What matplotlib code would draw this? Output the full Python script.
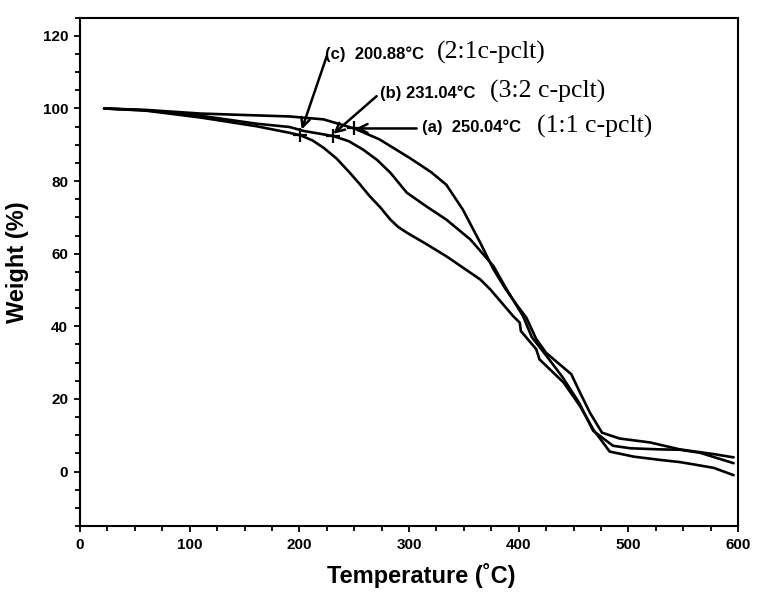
import matplotlib
matplotlib.use("Agg")
import matplotlib.pyplot as plt
import numpy as np
from matplotlib import font_manager
from matplotlib.ticker import MultipleLocator

# TGA curves (temperature in C, weight in %)
temp_a = [22, 60, 110, 150, 191, 222, 250, 273, 301, 320, 334, 349, 365, 377, 388, 398,
          407, 416, 425, 441, 448, 456, 465, 476, 492, 520, 547, 578, 596]
wt_a = [100, 99.6, 98.6, 98.2, 97.8, 97.0, 94.5, 91.5, 86.3, 82.5, 79.0, 72.2, 63.0, 55.7,
        50.3, 46.0, 42.4, 36.5, 32.7, 28.6, 26.8, 21.7, 16.2, 10.7, 9.1, 8.0, 6.1, 4.8, 3.9]

temp_b = [22, 60, 110, 161, 191, 204, 231, 245, 258, 271, 283, 298, 316, 334, 356, 377,
          389, 404, 412, 425, 440, 455, 468, 486, 502, 529, 547, 565, 596]
wt_b = [100, 99.5, 98.0, 95.8, 94.9, 93.8, 92.4, 91.0, 88.7, 85.8, 82.3, 76.8, 73.0, 69.4,
        63.9, 56.6, 50.2, 42.8, 37.0, 32.0, 26.0, 19.0, 11.2, 7.1, 6.4, 6.1, 6.0, 5.2, 2.3]

temp_c = [22, 60, 110, 161, 191, 201, 212, 222, 234, 246, 255, 264, 274, 283, 290, 298,
          315, 334, 365, 374, 395, 401, 402, 416, 419, 441, 456, 468, 483, 505, 529, 547,
          559, 578, 596]
wt_c = [100, 99.4, 97.5, 95.1, 93.3, 92.6, 91.2, 89.2, 86.2, 82.3, 79.2, 75.9, 72.7, 69.4,
        67.4, 65.8, 62.8, 59.3, 52.9, 50.2, 42.8, 41.0, 38.7, 33.7, 30.9, 24.5, 18.0, 11.6,
        5.5, 4.1, 3.2, 2.6, 2.0, 1.0, -1.0]

# onset temperatures and labels
onsets = [250.04, 231.04, 200.88]
tags = ["(a)  250.04°C", "(b) 231.04°C", "(c)  200.88°C"]
ratios = ["(1:1 c-pclt)", "(3:2 c-pclt)", "(2:1c-pclt)"]

installed = {f.name for f in font_manager.fontManager.ttflist}
narrow = [f for f in ["Liberation Sans Narrow", "Liberation Sans", "DejaVu Sans"] if f in installed]
sans = [f for f in ["Liberation Sans", "DejaVu Sans"] if f in installed]
serif = [f for f in ["Liberation Serif", "DejaVu Serif"] if f in installed]

fig = plt.figure(figsize=(7.63, 5.97), dpi=100)
ax = fig.add_axes([80/763, 1-526/597, 658/763, 508.3/597])

curves = [(temp_a, wt_a), (temp_b, wt_b), (temp_c, wt_c)]
for t, w in curves:
    ax.plot(t, w, color="black", lw=1.9, solid_capstyle="round", solid_joinstyle="round")

# onset markers
onset_w = [np.interp(o, t, w) for o, (t, w) in zip(onsets, curves)]
for o, w in zip(onsets, onset_w):
    ax.plot(o, w, marker="+", ms=10, mew=1.6, color="black")

arrow = dict(arrowstyle="->", color="black", lw=1.8, mutation_scale=16, shrinkA=0, shrinkB=0)

# (a) horizontal arrow
ax.annotate("", xy=(onsets[0] + 1.5, onset_w[0]), xytext=(307, onset_w[0]), arrowprops=arrow)
ax.text(311.6, 94.7, tags[0], family=sans, weight="bold", fontsize=12, va="center")
ax.text(416.7, 95.0, ratios[0], family=serif, fontsize=18.5, va="center")

# (b)
ax.annotate("", xy=(onsets[1], onset_w[1] + 0.6), xytext=(270.5, 103.4), arrowprops=arrow)
ax.text(273.5, 104.3, tags[1], family=sans, weight="bold", fontsize=12, va="center")
ax.text(373.8, 104.6, ratios[1], family=serif, fontsize=18.5, va="center")

# (c)
ax.annotate("", xy=(onsets[2] + 1.3, onset_w[2] + 1.6), xytext=(225, 114.4), arrowprops=arrow)
ax.text(223.4, 114.9, tags[2], family=sans, weight="bold", fontsize=12, va="center")
ax.text(325.3, 115.3, ratios[2], family=serif, fontsize=18.5, va="center")

ax.set_xlim(0, 600)
ax.set_ylim(-15, 125)
ax.xaxis.set_major_locator(MultipleLocator(100))
ax.xaxis.set_minor_locator(MultipleLocator(25))
ax.yaxis.set_major_locator(MultipleLocator(20))
ax.yaxis.set_minor_locator(MultipleLocator(5))
ax.tick_params(which="major", direction="out", length=4.5, width=1.3, pad=4)
ax.tick_params(which="minor", direction="out", length=3.5, width=1.3)
for lab in ax.get_xticklabels() + ax.get_yticklabels():
    lab.set_family(narrow)
    lab.set_weight("bold")
    lab.set_fontsize(11)
for s in ax.spines.values():
    s.set_linewidth(1.5)

ax.set_xlabel("Temperature (˚C)", family=sans, weight="bold", fontsize=17)
ax.set_ylabel("Weight (%)", family=sans, weight="bold", fontsize=17)
ax.xaxis.set_label_coords((421 - 80) / 658, -37 / 508.3)
ax.yaxis.set_label_coords(-(80 - 29) / 658, (526 - 262) / 508.3)

fig.savefig("out.png", dpi=100)
